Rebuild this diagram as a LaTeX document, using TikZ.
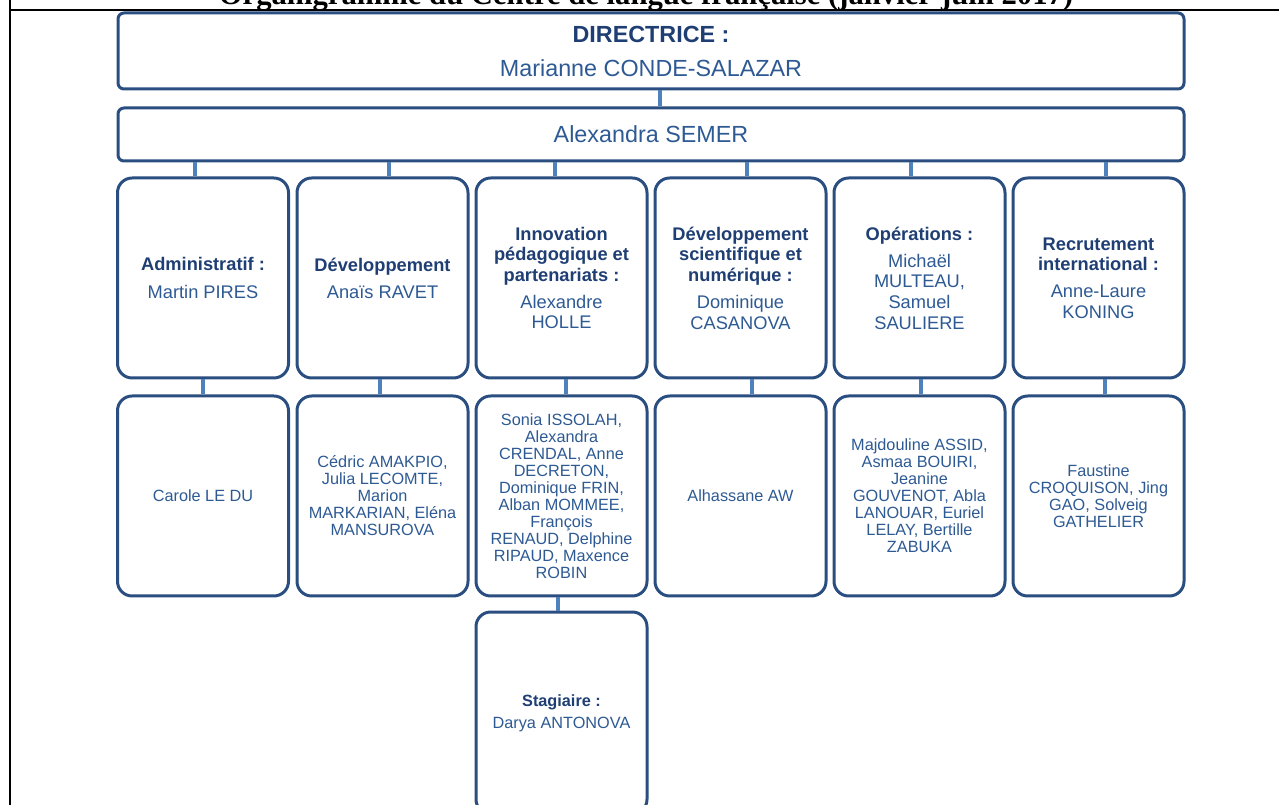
\documentclass[tikz,border=0pt]{standalone}
\usepackage{fontspec}
\setmainfont{Liberation Sans}
\newfontfamily\timesf{Liberation Serif}
\definecolor{boxline}{HTML}{2A4E80}
\definecolor{conn}{HTML}{4F81BD}
\definecolor{headc}{HTML}{1F3F74}
\definecolor{namec}{HTML}{2E5A94}
\begin{document}
\begin{tikzpicture}[x=0.75pt,y=-0.75pt,
  orgbox/.style={draw=boxline, line width=2.25pt, fill=white, rounded corners=11pt,
    minimum width=128.25pt, minimum height=150pt, inner sep=0pt, align=center, text=namec},
  topbox/.style={draw=boxline, line width=2.25pt, fill=white, rounded corners=4.5pt,
    minimum width=799.5pt, inner sep=0pt, align=center, text=namec,
    font=\fontsize{17.5}{25.5}\selectfont},
  lvltwo/.style={font=\fontsize{13.7}{15.4}\selectfont},
  lvlthree/.style={font=\fontsize{12.2}{12.75}\selectfont},
  link/.style={draw=conn, line width=3pt},
  hd/.style={}]
\useasboundingbox (0,0) rectangle (1279,805);
% frame and title
\node[anchor=base, inner sep=0pt] (title) at (646,4.5) {\timesf\bfseries\fontsize{23}{27}\selectfont Organigramme du Centre de langue française (janvier-juin 2017)};
\draw[line width=1.5pt] (10,0) coordinate (fa) -- (10,805) coordinate (fb);
\draw[line width=1.5pt] (9,10) coordinate (fc) -- (1279,10) coordinate (fd);

% connectors first (behind boxes)
\coordinate (dummy) at (0,0);

% top boxes
\node[topbox, minimum height=57pt] (dir) at (651,51) {\textcolor{headc}{\bfseries DIRECTRICE :}\\ Marianne CONDE-SALAZAR};
\node[topbox, minimum height=39.75pt] (sem) at (651,134.5) {Alexandra SEMER};

% level 2
\node[orgbox, lvltwo] (a1) at (203,278) {\textcolor{headc}{\bfseries Administratif :}\\[5pt] Martin PIRES};
\node[orgbox, lvltwo] (a2) at (382.5,278) {\textcolor{headc}{\bfseries Développement}\\[5pt] Anaïs RAVET};
\node[orgbox, lvltwo] (a3) at (561.5,278) {\color{headc}\bfseries Innovation\\\color{headc}\bfseries pédagogique et\\\color{headc}\bfseries partenariats :\\[5pt] Alexandre\\ HOLLE};
\node[orgbox, lvltwo] (a4) at (740.5,278) {\color{headc}\bfseries Développement\\\color{headc}\bfseries scientifique et\\\color{headc}\bfseries numérique :\\[5pt] Dominique\\ CASANOVA};
\node[orgbox, lvltwo] (a5) at (919.5,278) {\textcolor{headc}{\bfseries Opérations :}\\[5pt] Michaël\\ MULTEAU,\\ Samuel\\ SAULIERE};
\node[orgbox, lvltwo] (a6) at (1098.5,278) {\color{headc}\bfseries Recrutement\\\color{headc}\bfseries international :\\[5pt] Anne-Laure\\ KONING};

% level 3
\node[orgbox, lvlthree] (b1) at (203,496) {Carole LE DU};
\node[orgbox, lvlthree] (b2) at (382.5,496) {Cédric AMAKPIO,\\ Julia LECOMTE,\\ Marion\\ MARKARIAN, Eléna\\ MANSUROVA};
\node[orgbox, lvlthree] (b3) at (561.5,496) {Sonia ISSOLAH,\\ Alexandra\\ CRENDAL, Anne\\ DECRETON,\\ Dominique FRIN,\\ Alban MOMMEE,\\ François\\ RENAUD, Delphine\\ RIPAUD, Maxence\\ ROBIN};
\node[orgbox, lvlthree] (b4) at (740.5,496) {Alhassane AW};
\node[orgbox, lvlthree] (b5) at (919.5,496) {Majdouline ASSID,\\ Asmaa BOUIRI,\\ Jeanine\\ GOUVENOT, Abla\\ LANOUAR, Euriel\\ LELAY, Bertille\\ ZABUKA};
\node[orgbox, lvlthree] (b6) at (1098.5,496) {Faustine\\ CROQUISON, Jing\\ GAO, Solveig\\ GATHELIER};

% level 4
\node[orgbox, lvlthree, minimum height=151.5pt] (c3) at (561.5,713) {\textcolor{headc}{\bfseries Stagiaire :}\\[4pt] Darya ANTONOVA};

% connectors
\begin{scope}[on background layer/.style={}]
\draw[link] ([xshift=6.75pt]dir.south) -- ([xshift=6.75pt]dir.south |- sem.north);
\draw[link] ([xshift=-6pt]a1.north) -- ([xshift=-6pt]a1.north |- sem.south);
\draw[link] ([xshift=4.9pt]a2.north) -- ([xshift=4.9pt]a2.north |- sem.south);
\draw[link] ([xshift=-4.9pt]a3.north) -- ([xshift=-4.9pt]a3.north |- sem.south);
\draw[link] ([xshift=4.9pt]a4.north) -- ([xshift=4.9pt]a4.north |- sem.south);
\draw[link] ([xshift=-6.4pt]a5.north) -- ([xshift=-6.4pt]a5.north |- sem.south);
\draw[link] ([xshift=5.6pt]a6.north) -- ([xshift=5.6pt]a6.north |- sem.south);
\draw[link] (a1.south) -- (b1.north);
\draw[link] ([xshift=-1.9pt]a2.south) -- ([xshift=-1.9pt]b2.north);
\draw[link] ([xshift=3.4pt]a3.south) -- ([xshift=3.4pt]b3.north);
\draw[link] ([xshift=8.6pt]a4.south) -- ([xshift=8.6pt]b4.north);
\draw[link] ([xshift=1.1pt]a5.south) -- ([xshift=1.1pt]b5.north);
\draw[link] ([xshift=4.9pt]a6.south) -- ([xshift=4.9pt]b6.north);
\draw[link] ([xshift=-2.6pt]b3.south) -- ([xshift=-2.6pt]c3.north);
\end{scope}
\end{tikzpicture}
\end{document}
